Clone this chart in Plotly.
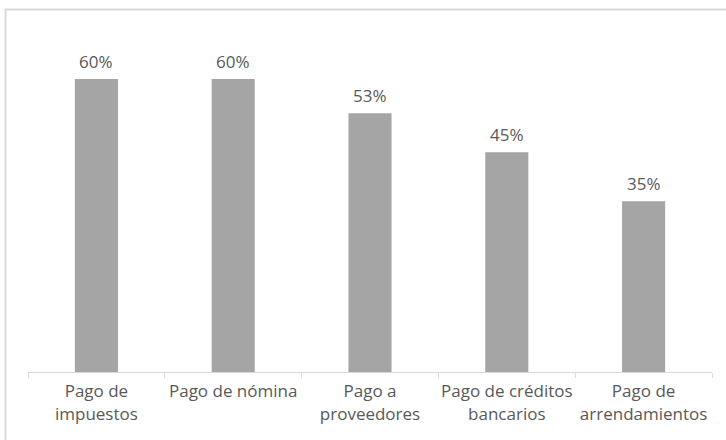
import plotly.graph_objects as go

categories = ["Pago de<br>impuestos", "Pago de nómina", "Pago a<br>proveedores",
              "Pago de créditos<br>bancarios", "Pago de<br>arrendamientos"]
values = [60, 60, 53, 45, 35]
labels = ["60%", "60%", "53%", "45%", "35%"]

FONT = "Open Sans"

fig = go.Figure(go.Bar(
    x=categories, y=values,
    marker=dict(color="#A5A5A5", line=dict(width=0)),
    width=0.315, hoverinfo="skip",
))

for c, v, t in zip(categories, values, labels):
    fig.add_annotation(x=c, y=v, text=t, showarrow=False, yanchor="bottom",
                       yshift=4, font=dict(family=FONT, size=17, color="#595959"))

fig.update_layout(
    width=726, height=440,
    margin=dict(l=28, r=14, t=20, b=68),
    plot_bgcolor="white", paper_bgcolor="white",
    font=dict(family=FONT, color="#595959", size=17),
    showlegend=False,
    xaxis=dict(showline=True, linecolor="#D9D9D9", linewidth=1, automargin=False,
               ticks="outside", tickson="boundaries", tickcolor="#D9D9D9",
               ticklen=5, showgrid=False, tickangle=0, ticklabelstandoff=4,
               tickfont=dict(family=FONT, size=17, color="#595959")),
    yaxis=dict(range=[0, 72.1], visible=False, showgrid=False, automargin=False),
    shapes=[dict(type="rect", xref="paper", yref="paper",
                 x0=-0.0329, x1=1.05, y0=-0.3, y1=1.0298,
                 line=dict(color="#D9D9D9", width=2), fillcolor="rgba(0,0,0,0)", layer="below")],
)

fig.write_html("out.html", config={"displayModeBar": False},
               post_script="document.body.style.margin='0';")
